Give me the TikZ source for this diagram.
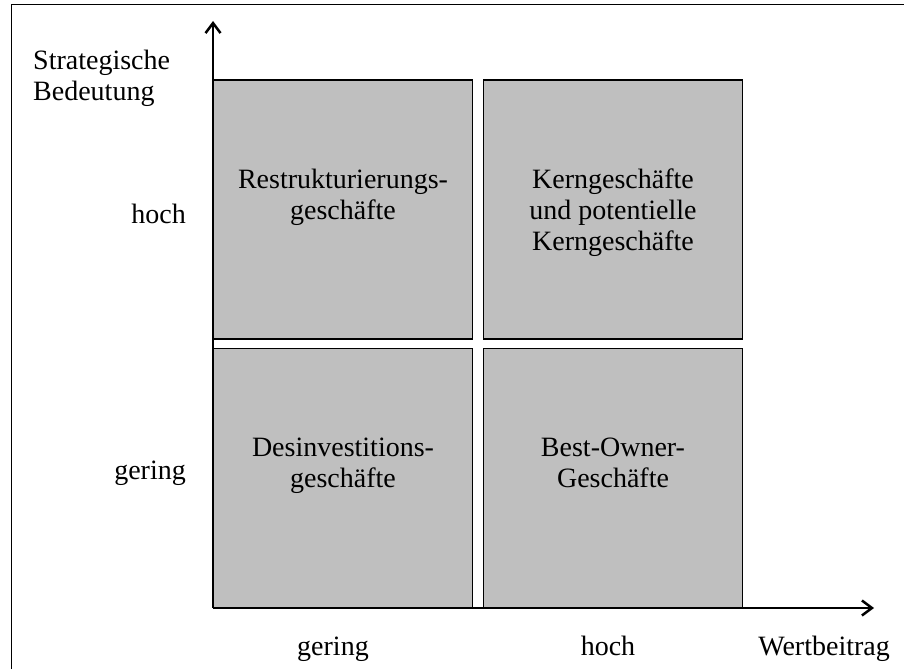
\documentclass[tikz,border=0pt]{standalone}
\usepackage{fontspec}
\setmainfont{Liberation Serif}
\usetikzlibrary{arrows.meta,positioning,calc}

\begin{document}
\begin{tikzpicture}[x=1pt, y=-1pt,
	quad/.style={draw, line width=1.5pt, fill=black!25, minimum width=259pt, minimum height=259pt},
	txt/.style={font=\fontsize{28}{31}\selectfont, align=center, inner sep=0pt},
	axis/.style={-{Straight Barb[length=10pt, width=15pt]}, line width=2.5pt}]
	\useasboundingbox (0,0) rectangle (904,669);
	\draw[line width=1pt] (11,669) -- (11,5) -- (904,5);
	\node[quad] (TL) at (343,209.5) {};
	\node[quad] (TR) at (613,209.5) {};
	\node[quad] (BL) at (343,478) {};
	\node[quad] (BR) at (613,478) {};
	% base of a multi-line node is its last line
	\node[txt, anchor=base] (rs) at ($(TL.north)+(0,140)$) {Restrukturierungs-\\geschäfte};
	\node[txt, anchor=base] (kg) at ($(TR.north)+(0,171)$) {Kerngeschäfte\\und potentielle\\Kerngeschäfte};
	\node[txt, anchor=base] (di) at ($(BL.north)+(0,140)$) {Desinvestitions-\\geschäfte};
	\node[txt, anchor=base] (bo) at ($(BR.north)+(0,140)$) {Best-Owner-\\Geschäfte};
	\coordinate (O) at (213,608);
	\coordinate (ytip) at (213,21);
	\coordinate (xtip) at (874,608);
	\draw[axis] (O) -- (ytip);
	\draw[axis] (O) -- (xtip);
	\node[txt, align=left, anchor=base west] (sb) at (33,100) {Strategische\\Bedeutung};
	\node[txt, anchor=base east] (yh) at (186,223) {hoch};
	\node[txt, anchor=base east] (yg) at (186,479) {gering};
	\node[txt, anchor=base] (xg) at (333,655) {gering};
	\node[txt, anchor=base] (xh) at (608,655) {hoch};
	\node[txt, anchor=base east] (wb) at (890,655) {Wertbeitrag};
\end{tikzpicture}
\end{document}
